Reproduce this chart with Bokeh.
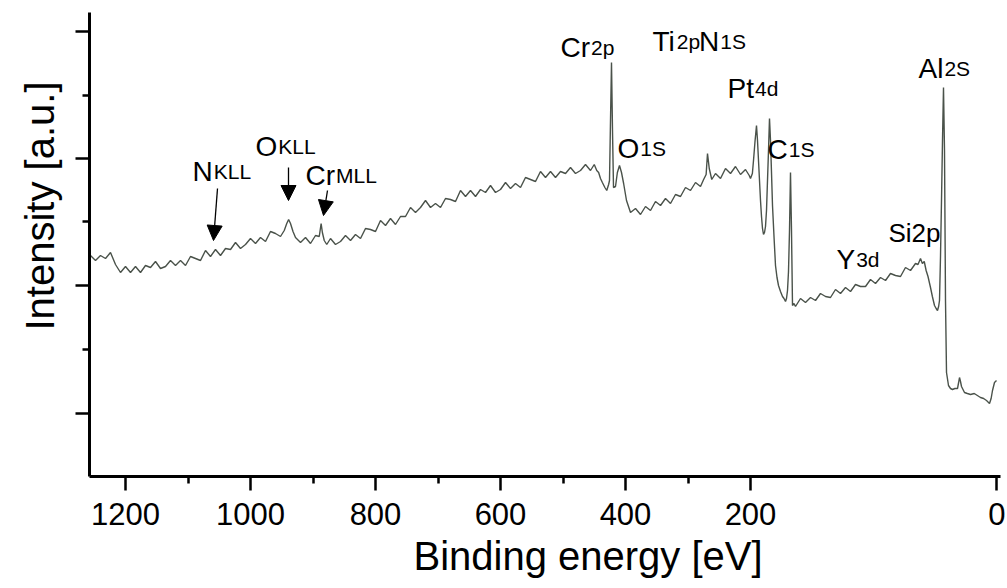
from bokeh.plotting import figure
from bokeh.models import Range1d, FixedTicker, Arrow, NormalHead, ColumnDataSource, Title
from bokeh.embed import file_html
from bokeh.resources import INLINE
from bokeh.core.properties import value

# ---------------- data ----------------
energy_ev = [
    1256, 1248, 1240, 1232, 1224, 1216, 1208, 1200, 1192, 1184, 1176, 1168, 1160, 1152, 1144, 1136,
    1128, 1120, 1112, 1104, 1096, 1088, 1080, 1072, 1064, 1056, 1048, 1040, 1032, 1024, 1016, 1008,
    1000, 992, 984, 976, 968, 960, 952,
    946, 942, 939, 936, 932, 928,
    920, 912, 904, 896, 890, 887, 885, 882, 878, 872, 864, 856, 848, 840, 832, 824, 816, 808, 800,
    792, 784, 776, 768, 760, 752, 744, 736, 728, 720, 712, 704, 696, 688, 680, 672, 664, 656, 648,
    640, 632, 624, 616, 608, 600, 592, 584, 576, 568, 560, 552, 544, 536, 528, 520, 512, 504, 496,
    488, 480, 472, 464, 456,
    450, 446, 443, 440, 437, 433, 430, 427, 425.6, 424, 422.4, 420.8, 419.2, 416, 413, 409.6, 406.4,
    403, 398.4, 392,
    384, 376, 368, 360, 352, 344, 336, 328, 320, 312, 304, 296, 288, 280, 275, 271, 268.8, 266, 262,
    256, 248, 240, 232, 224, 216, 208, 202,
    200, 197, 195.2, 192.8, 190.4, 188.8, 187.2, 185.6, 184, 182.4, 180.8, 179.2, 177.6, 176, 174.4,
    172.8, 171.2, 169.6, 168, 166.4, 164.8, 162.4, 160, 157.6, 155.2, 152, 148.8, 146.4, 144, 142.4,
    140.8, 139.2, 137.6, 136, 134.4, 132.8, 130.4, 128,
    120, 112, 104, 96, 88, 80, 72, 64, 56, 48, 40, 32, 24, 16, 8, 0, -8, -16, -24, -32, -40, -48,
    -56, -64, -68, -72, -75, -78, -81, -84, -88, -91, -94.4, -97, -99.2, -101, -102.4, -104, -105.6,
    -107.2, -108.8, -110.4, -112, -113.6, -116.8, -120, -123.2, -127, -131.2, -133, -134.4, -136,
    -137.6, -142.4, -147, -152, -158, -163, -168, -173, -177.6, -182.4, -185, -187.2, -190.4, -193.6,
]
intensity = [
    22.1, 21.6, 22.1, 21.8, 22.4, 21.2, 20.4, 21.0, 20.4, 21.0, 20.4, 21.1, 20.9, 21.5, 20.8, 21.0,
    21.6, 21.1, 21.6, 21.1, 22.0, 21.8, 21.6, 22.6, 22.0, 22.7, 22.1, 22.8, 22.7, 23.4, 22.8, 23.2,
    23.8, 23.3, 23.9, 23.5, 24.5, 24.3, 24.0,
    24.6, 25.3, 25.7, 25.3, 24.5, 23.9,
    23.4, 23.9, 23.3, 24.1, 24.0, 25.3, 24.4, 23.6, 23.2, 23.8, 23.2, 23.5, 24.1, 23.6, 24.2, 23.8,
    24.8, 24.7, 24.5,
    25.6, 25.1, 25.8, 25.2, 26.0, 26.0, 26.9, 26.4, 26.9, 27.6, 26.9, 27.3, 26.9, 27.8, 27.7, 27.5,
    28.6, 28.0, 28.6,
    28.0, 28.7, 28.4, 29.1, 28.4, 28.7, 29.4, 28.8, 29.3, 28.9, 29.9, 29.7, 29.5, 30.5, 29.9, 30.5,
    29.9, 30.5, 30.3,
    30.9, 30.3, 30.6, 31.2, 30.6,
    31.2, 30.6, 30.4, 29.8, 29.4, 28.9, 28.6, 29.2, 29.6, 35.6, 41.4, 34.6, 28.9, 29.0, 30.4, 31.1,
    30.4, 29.3, 27.6, 26.4,
    26.8, 26.2, 27.0, 26.6, 27.5, 27.1, 27.8, 27.3, 28.2, 28.0, 28.9, 28.6, 29.4, 29.0, 29.7, 30.2,
    32.3, 30.8, 29.7,
    30.3, 29.8, 30.8, 30.3, 31.0, 30.2, 30.7, 30.1,
    29.8, 30.3, 31.6, 33.5, 35.1, 33.6, 31.6, 29.6, 27.6, 26.0, 24.8, 24.2, 24.4, 25.0, 26.6,
    29.6, 32.6, 35.8, 33.6, 30.4, 27.1, 24.0, 21.1, 19.9, 19.1, 18.5, 18.0, 17.8, 17.5, 17.8,
    18.6, 20.5, 24.6, 30.4, 24.6, 17.1, 17.3, 17.0,
    17.8, 17.4, 17.9, 17.6, 18.3, 18.0, 17.9, 18.7, 18.3, 18.9, 18.5, 19.2, 19.0, 19.0, 19.7, 19.3,
    19.9, 19.6, 20.3, 20.1, 20.0, 20.9,
    20.6, 21.3, 21.2, 21.8, 21.3, 21.5, 20.6, 20.0, 18.9, 18.0, 17.1, 16.8, 16.6, 17.0, 17.6, 22.0,
    27.6, 33.6, 38.9, 32.6, 17.6, 10.4, 9.1, 8.8, 8.7, 8.8, 8.8, 9.4, 9.9, 9.5,
    9.0, 8.4, 8.3, 8.2, 8.3, 8.1, 7.9, 7.8, 7.6, 7.3, 7.8, 8.6, 9.4, 9.6,
]

x_tick_values = [1200, 1000, 800, 600, 400, 200, -194]
x_tick_labels = ["1200", "1000", "800", "600", "400", "200", "0"]
x_minor_ticks = [1100, 900, 700, 500, 300]
y_major_ticks = [6.3, 19.1, 31.8, 44.5]
y_minor_ticks = [12.7, 25.5, 38.1]

x_title = "Binding energy [eV]"
y_title = "Intensity [a.u.]"

# peak labels: large symbol + smaller level
label_main = ["N", "O", "Cr", "Cr", "Ti", "N", "Pt", "O", "C", "Y", "Al"]
label_sub = ["KLL", "KLL", "MLL", "2p", "2p", "1S", "4d", "1S", "1S", "3d", "2S"]
label_x = [1092.8, 992, 912, 504, 356.8, 282.4, 236.8, 412.8, 172.8, 62.4, -68.8]
label_y = [30.5, 33.0, 30.1, 42.9, 43.5, 43.5, 38.8, 32.8, 32.7, 21.7, 40.8]
plain_label = ["Si2p"]
plain_x = [-20.8]
plain_y = [24.4]

arrow_x0 = [1052.8, 939.2, 876.8]
arrow_y0 = [28.8, 30.9, 28.6]
arrow_x1 = [1059.2, 939.2, 883.2]
arrow_y1 = [23.6, 27.6, 26.1]

# ---------------- styling ----------------
FONT = "Liberation Sans"
MAIN_PX = 28
SUB_PX = 21
CHAR_W = {"N": .722, "O": .778, "C": .722, "r": .333, "T": .611, "i": .222,
          "P": .667, "t": .278, "Y": .667, "A": .667, "l": .222}

p = figure(width=1007, height=588, output_backend="svg", toolbar_location=None,
           x_range=Range1d(1257.6, -200), y_range=Range1d(0, 46.4),
           min_border_left=89, min_border_right=7, min_border_top=12, min_border_bottom=112)
p.outline_line_color = None
p.xgrid.visible = False
p.ygrid.visible = False
p.background_fill_color = "white"
p.border_fill_color = "white"

p.line(energy_ev, intensity, line_color="#4a524a", line_width=1.4)

# labels
sub_offsets = [sum(CHAR_W[c] for c in m) * MAIN_PX + 1 for m in label_main]
lsrc = ColumnDataSource(dict(x=label_x, y=label_y, main=label_main, sub=label_sub, off=sub_offsets))
p.text(x="x", y="y", text="main", source=lsrc, text_font=value(FONT),
       text_font_size=value(f"{MAIN_PX}px"), text_baseline="alphabetic", text_align="left",
       text_color="black")
p.text(x="x", y="y", text="sub", source=lsrc, x_offset="off", text_font=value(FONT),
       text_font_size=value(f"{SUB_PX}px"), text_baseline="alphabetic", text_align="left",
       text_color="black")
p.text(x=plain_x, y=plain_y, text=plain_label, text_font=value(FONT),
       text_font_size=value("26px"), text_baseline="alphabetic", text_align="left",
       text_color="black")

asrc = ColumnDataSource(dict(x0=arrow_x0, y0=arrow_y0, x1=arrow_x1, y1=arrow_y1))
p.add_layout(Arrow(x_start="x0", y_start="y0", x_end="x1", y_end="y1", source=asrc,
                   line_color="black", line_width=1.3,
                   end=NormalHead(size=15, fill_color="black", line_color="black")))

# axes
xa = p.xaxis[0]
xa.ticker = FixedTicker(ticks=x_tick_values, minor_ticks=x_minor_ticks)
xa.major_label_overrides = {v: l for v, l in zip(x_tick_values, x_tick_labels)}
ya = p.yaxis[0]
ya.ticker = FixedTicker(ticks=y_major_ticks, minor_ticks=y_minor_ticks)
ya.major_label_text_color = None
ya.major_label_text_font_size = "11px"
ya.major_label_standoff = 0

for ax in (xa, ya):
    ax.axis_line_width = 3
    ax.axis_line_color = "black"
    ax.major_tick_line_width = 2.5
    ax.minor_tick_line_width = 2.5
    ax.major_tick_in = 0
    ax.major_tick_out = 14
    ax.minor_tick_in = 0
    ax.minor_tick_out = 7
    ax.major_label_text_font = FONT

xa.major_label_text_color = "black"
xa.major_label_text_font_size = "31px"
xa.major_label_standoff = 12

# axis titles, off-centre as in the reference
p.add_layout(Title(text=x_title, align="left", offset=324, standoff=8,
                   text_font=FONT, text_font_size="40px", text_font_style="normal",
                   text_color="black"), "below")
p.add_layout(Title(text=y_title, align="left", offset=146, standoff=28,
                   text_font=FONT, text_font_size="40px", text_font_style="normal",
                   text_color="black"), "left")

open("out.html", "w").write(file_html(p, INLINE))
